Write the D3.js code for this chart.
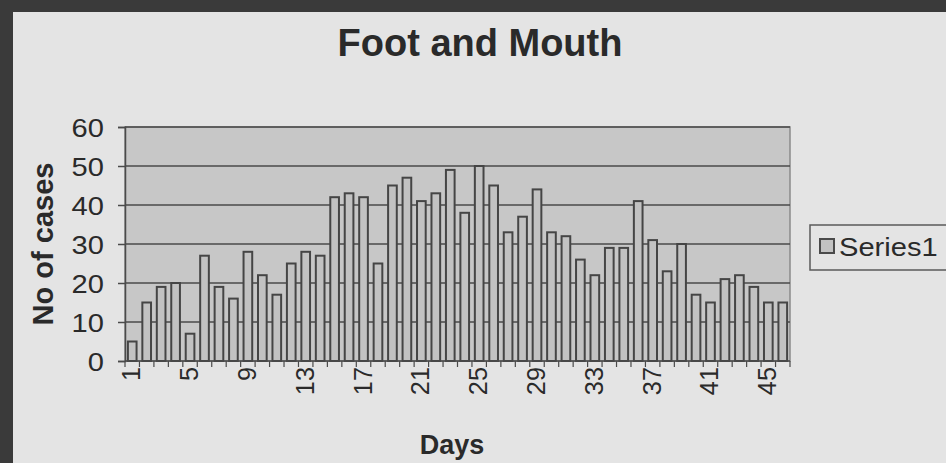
<!DOCTYPE html>
<html>
<head>
<meta charset="utf-8">
<title>Foot and Mouth</title>
<script src="https://d3js.org/d3.v7.min.js"></script>
<style>
body { margin: 0; background: #3a3a3a; }
svg { display: block; }
text { font-family: "Liberation Sans", Arial, sans-serif; fill: #2a2a2a; }
</style>
</head>
<body>
<svg id="chart" width="946" height="463"></svg>
<script>
// values
var days = d3.range(1, 47);
var cases = [5, 15, 19, 20, 7, 27, 19, 16, 28, 22, 17, 25, 28, 27, 42, 43, 42, 25, 45, 47,
             41, 43, 49, 38, 50, 45, 33, 37, 44, 33, 32, 26, 22, 29, 29, 41, 31, 23, 30, 17,
             15, 21, 22, 19, 15, 15];
var yTicks = [0, 10, 20, 30, 40, 50, 60];
var xLabels = [1, 5, 9, 13, 17, 21, 25, 29, 33, 37, 41, 45];
var seriesName = "Series1";

var svg = d3.select("#chart");

// dark frame of the photo, light chart area
svg.append("rect").attr("width", 946).attr("height", 463).attr("fill", "#3a3a3a");
svg.append("rect").attr("x", 13).attr("y", 12).attr("width", 940).attr("height", 460).attr("fill", "#e4e4e4");

var plot = { left: 125, right: 790, top: 127, bottom: 361 };

var x = d3.scaleBand().domain(days).range([plot.left, plot.right]).paddingInner(0.4).paddingOuter(0.2);
var y = d3.scaleLinear().domain([0, 60]).range([plot.bottom, plot.top]);

svg.append("rect")
  .attr("x", plot.left).attr("y", plot.top)
  .attr("width", plot.right - plot.left).attr("height", plot.bottom - plot.top)
  .attr("fill", "#c7c7c7").attr("stroke", "#8a8a8a").attr("stroke-width", 1.5);

// gridlines
svg.append("g").selectAll("line").data(yTicks.slice(1)).enter().append("line")
  .attr("x1", plot.left).attr("x2", plot.right)
  .attr("y1", function (d) { return y(d); }).attr("y2", function (d) { return y(d); })
  .attr("stroke", "#4a4a4a").attr("stroke-width", 1.5);

// bars
svg.append("g").selectAll("rect").data(cases).enter().append("rect")
  .attr("x", function (d, i) { return x(days[i]); })
  .attr("y", function (d) { return y(d); })
  .attr("width", x.bandwidth())
  .attr("height", function (d) { return y(0) - y(d); })
  .attr("fill", "#c2c2c2").attr("stroke", "#454545").attr("stroke-width", 2);

// y axis
var yAxis = d3.axisLeft(y).tickValues(yTicks).tickSize(7).tickPadding(12);
var gy = svg.append("g").attr("transform", "translate(" + plot.left + ",0)").call(yAxis);
gy.select(".domain").attr("stroke", "#4a4a4a").attr("stroke-width", 1.5);
gy.selectAll(".tick line").attr("stroke", "#4a4a4a").attr("stroke-width", 1.5);
gy.selectAll("text").attr("font-size", 26).attr("fill", "#2a2a2a")
  .attr("transform", "scale(1.12,1)").attr("dy", "0.36em");
gy.selectAll(".tick text").attr("x", -21 / 1.12);

// x axis: ticks on every category boundary
var bounds = days.map(function (d) { return x(d) - x.step() * x.paddingInner() / 2; });
bounds.push(plot.right);
var gx = svg.append("g");
gx.append("line").attr("x1", plot.left).attr("x2", plot.right)
  .attr("y1", plot.bottom).attr("y2", plot.bottom)
  .attr("stroke", "#4a4a4a").attr("stroke-width", 1.5);
gx.selectAll("line.tk").data(bounds).enter().append("line").attr("class", "tk")
  .attr("x1", function (d) { return d; }).attr("x2", function (d) { return d; })
  .attr("y1", plot.bottom).attr("y2", plot.bottom + 6)
  .attr("stroke", "#4a4a4a").attr("stroke-width", 1.2);
gx.selectAll("text").data(xLabels).enter().append("text")
  .attr("transform", function (d) {
    return "translate(" + (x(d) + x.bandwidth() / 2 + 8) + "," + (plot.bottom + 6) + ") rotate(-90) scale(1.1,1.1)";
  })
  .attr("text-anchor", "end")
  .attr("font-size", 23)
  .text(function (d) { return d; });

// titles
svg.append("text").attr("x", 480).attr("y", 56).attr("text-anchor", "middle")
  .attr("font-size", 38).attr("font-weight", "bold")
  .text("Foot and Mouth");
svg.append("text").attr("x", 452).attr("y", 454).attr("text-anchor", "middle")
  .attr("font-size", 27).attr("font-weight", "bold").text("Days");
svg.append("text").attr("transform", "translate(53,244) rotate(-90)").attr("text-anchor", "middle")
  .attr("font-size", 29).attr("font-weight", "bold").text("No of cases");

// legend
var lg = svg.append("g").attr("transform", "translate(810,225)");
lg.append("rect").attr("width", 150).attr("height", 45)
  .attr("fill", "#e4e4e4").attr("stroke", "#5a5a5a").attr("stroke-width", 1.5);
lg.append("rect").attr("x", 10).attr("y", 14).attr("width", 14).attr("height", 14)
  .attr("fill", "#c2c2c2").attr("stroke", "#4a4a4a").attr("stroke-width", 2);
lg.append("text").attr("x", 29).attr("y", 31).attr("font-size", 26)
  .attr("transform", "translate(29,0) scale(1.12,1) translate(-29,0)")
  .text(seriesName);
</script>
</body>
</html>
